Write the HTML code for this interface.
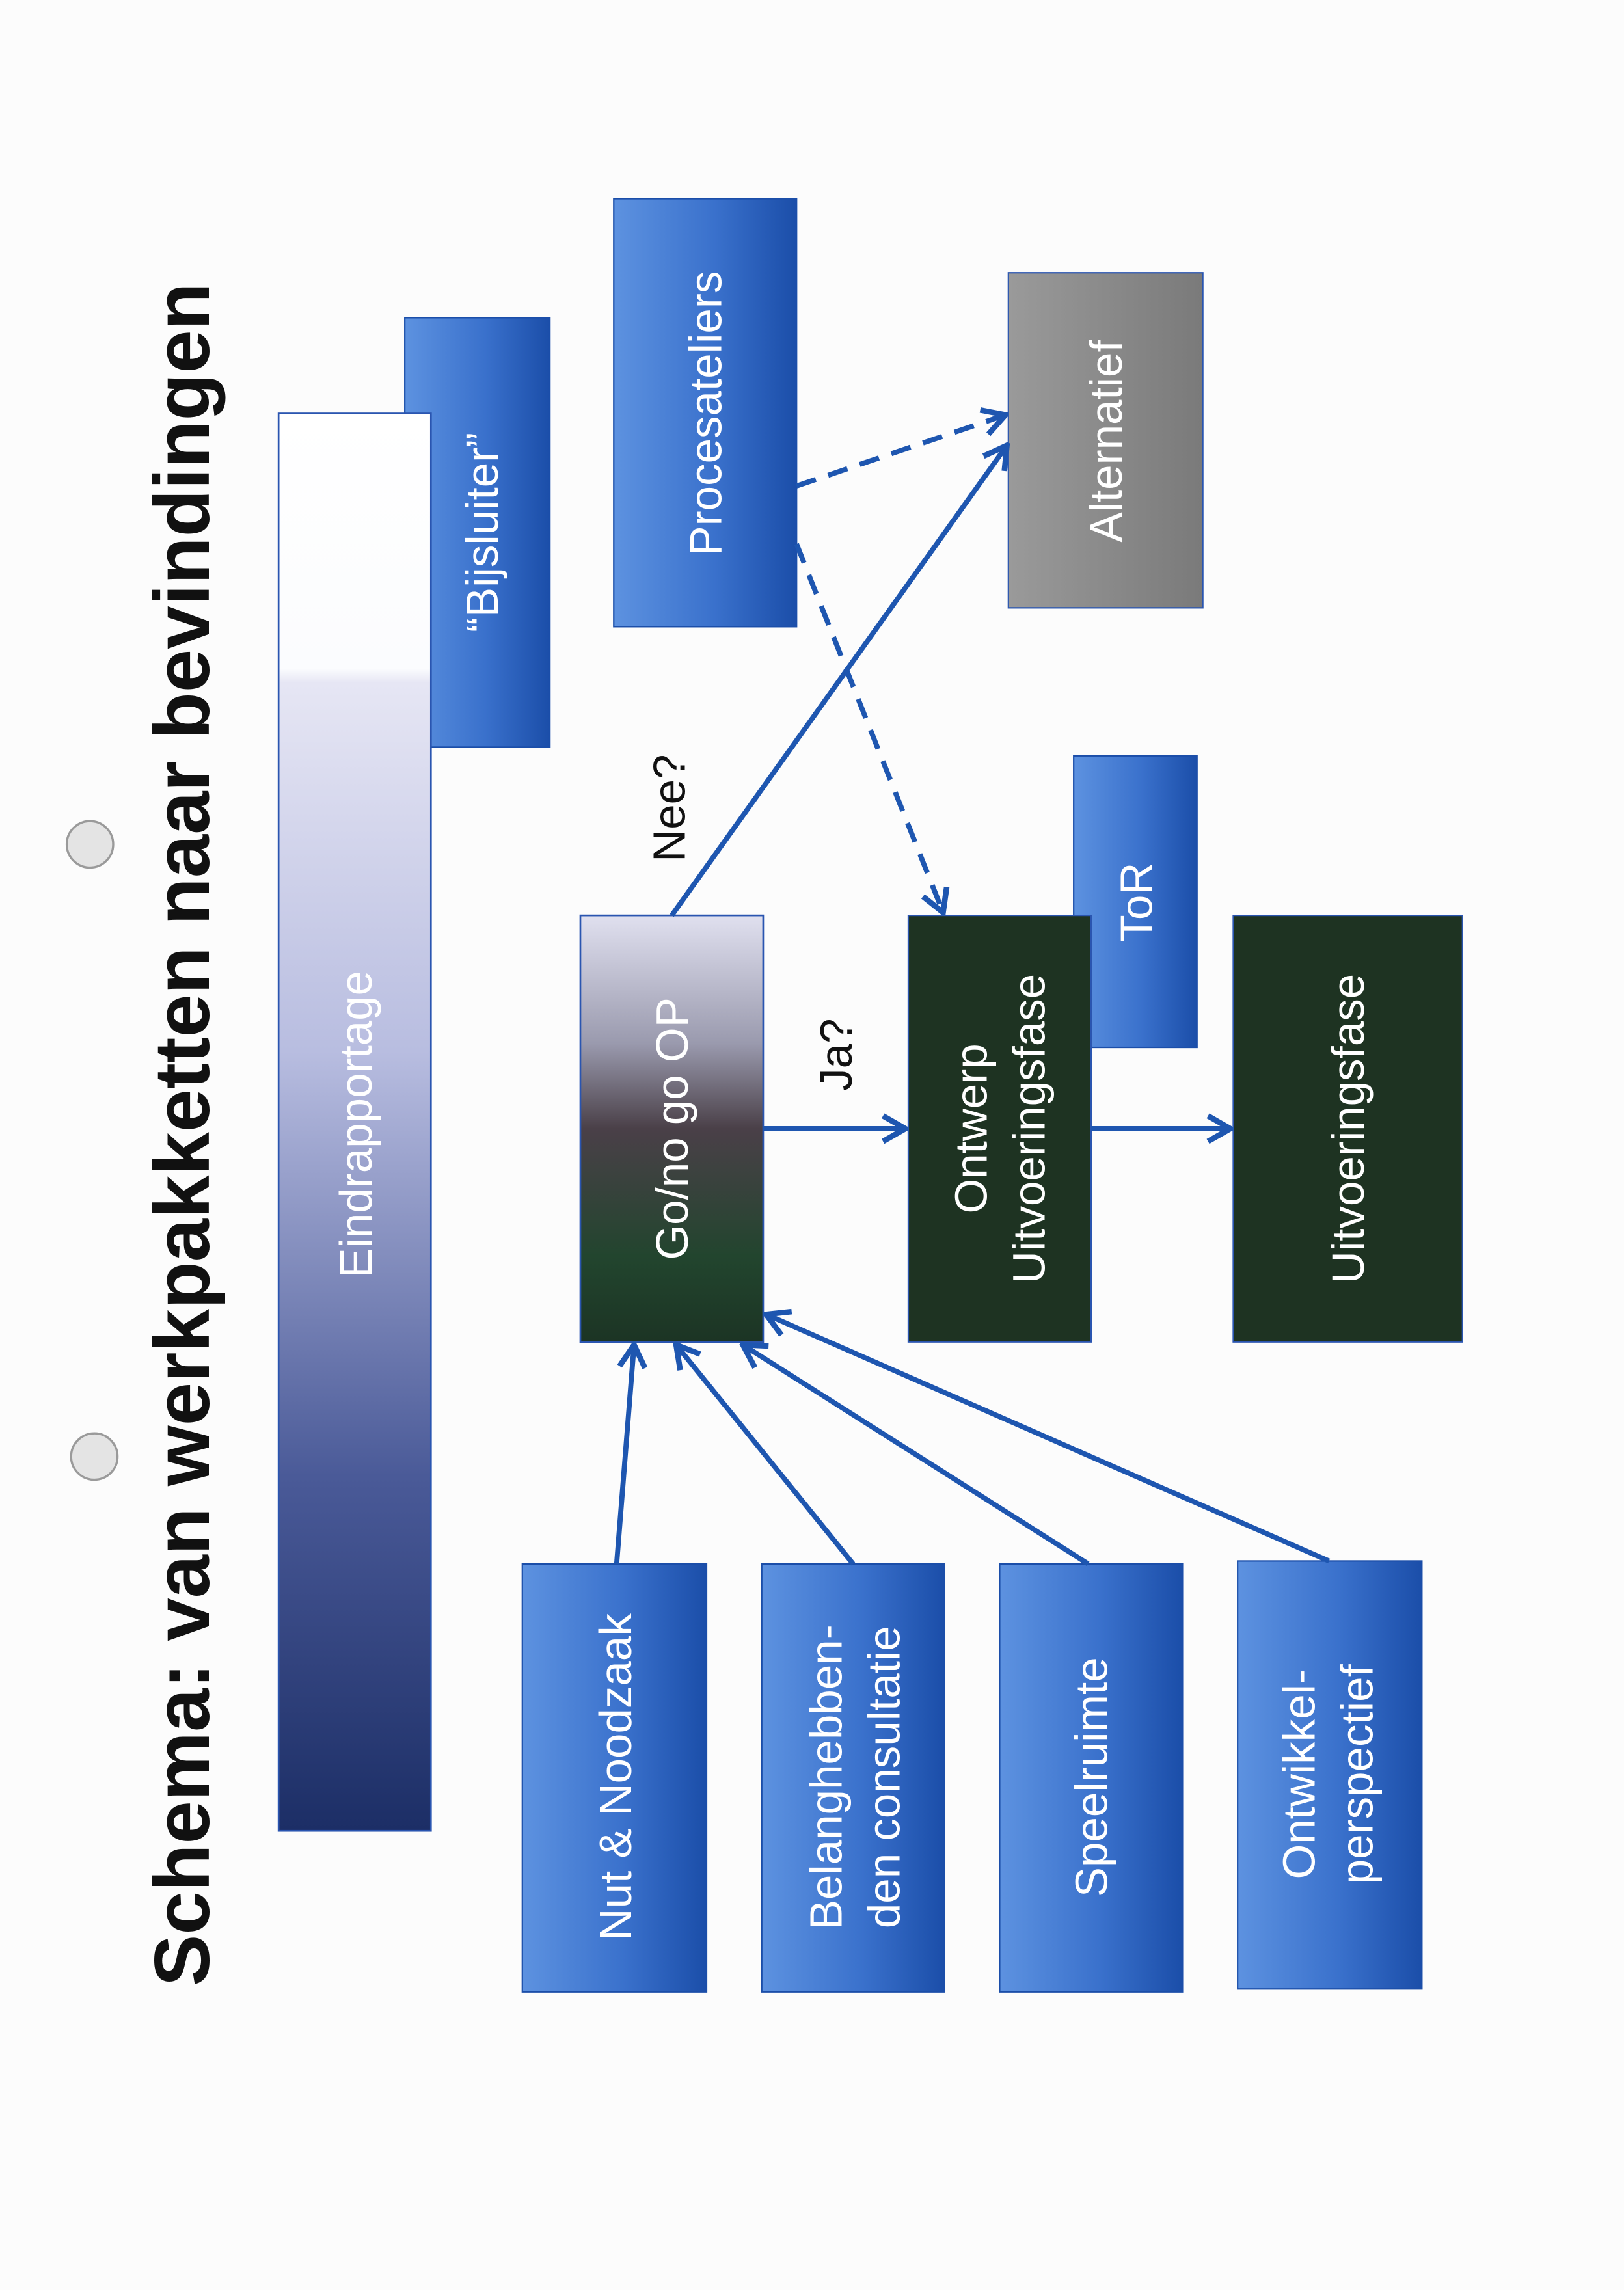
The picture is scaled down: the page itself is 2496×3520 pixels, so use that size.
<!DOCTYPE html>
<html><head><meta charset="utf-8"><style>
html,body{margin:0;padding:0;background:#fcfcfc;}
svg{display:block;}
text{font-family:"Liberation Sans",Arial,sans-serif;}
</style></head><body>
<svg width="2496" height="3520" viewBox="0 0 1119.3 1578.5" preserveAspectRatio="none" xmlns="http://www.w3.org/2000/svg">
<defs>
<linearGradient id="blue" x1="0" y1="0" x2="1" y2="0">
<stop offset="0" stop-color="#5d92e0"/><stop offset="0.55" stop-color="#3a71cc"/><stop offset="1" stop-color="#1b4ea9"/>
</linearGradient>
<linearGradient id="eind" x1="0" y1="0" x2="0" y2="1">
<stop offset="0" stop-color="#ffffff"/><stop offset="0.18" stop-color="#fbfcfe"/><stop offset="0.19" stop-color="#e6e6f4"/><stop offset="0.45" stop-color="#b8bde0"/><stop offset="0.75" stop-color="#4a5a98"/><stop offset="1" stop-color="#1c2e66"/>
</linearGradient>
<linearGradient id="go" x1="0" y1="0" x2="0" y2="1">
<stop offset="0" stop-color="#e0e0ef"/><stop offset="0.3" stop-color="#9a9aae"/><stop offset="0.5" stop-color="#4a4048"/><stop offset="0.8" stop-color="#22452e"/><stop offset="1" stop-color="#1c3424"/>
</linearGradient>
<linearGradient id="gray" x1="0" y1="0" x2="1" y2="0">
<stop offset="0" stop-color="#9a9a9a"/><stop offset="1" stop-color="#7a7a7a"/>
</linearGradient>
<marker id="arr" viewBox="0 0 20 20" refX="18" refY="10" markerWidth="22" markerHeight="22" orient="auto" markerUnits="userSpaceOnUse">
<path d="M4,2 L18,10 L4,18" fill="none" stroke="#1e56b0" stroke-width="3.5"/>
</marker>
</defs>

<text transform="translate(144,782) rotate(-90)" text-anchor="middle" font-size="53.5" font-weight="bold" fill="#111">Schema: van werkpakketten naar bevindingen</text>

<circle cx="62" cy="582" r="16" fill="#e4e4e4" stroke="#9a9a9a" stroke-width="1.5"/>
<circle cx="65" cy="1004" r="16" fill="#e4e4e4" stroke="#9a9a9a" stroke-width="1.5"/>

<rect x="279" y="219" width="100" height="296" fill="url(#blue)" stroke="#1b4ea9"/>
<text transform="translate(343,367) rotate(-90)" text-anchor="middle" font-size="31" fill="#fff">“Bijsluiter”</text>

<rect x="192" y="285" width="105" height="977" fill="url(#eind)" stroke="#2a55b0" stroke-width="1.2"/>
<text transform="translate(256,775) rotate(-90)" text-anchor="middle" font-size="31" fill="#fff">Eindrapportage</text>

<rect x="423" y="137" width="126" height="295" fill="url(#blue)" stroke="#1b4ea9"/>
<text transform="translate(497,285) rotate(-90)" text-anchor="middle" font-size="31" fill="#fff">Procesateliers</text>

<rect x="695" y="188" width="134" height="231" fill="url(#gray)" stroke="#2a55b0"/>
<text transform="translate(773,304) rotate(-90)" text-anchor="middle" font-size="31" fill="#fff">Alternatief</text>

<rect x="740" y="521" width="85" height="201" fill="url(#blue)" stroke="#1b4ea9"/>
<text transform="translate(794,622) rotate(-90)" text-anchor="middle" font-size="31" fill="#fff">ToR</text>

<rect x="400" y="631" width="126" height="294" fill="url(#go)" stroke="#2a55b0" stroke-width="1.2"/>
<text transform="translate(474,778) rotate(-90)" text-anchor="middle" font-size="31" fill="#fff">Go/no go OP</text>

<rect x="626" y="631" width="126" height="294" fill="#1e3322" stroke="#2a55b0" stroke-width="1"/>
<text transform="translate(680,778) rotate(-90)" text-anchor="middle" font-size="31" fill="#fff">Ontwerp</text>
<text transform="translate(720,778) rotate(-90)" text-anchor="middle" font-size="31" fill="#fff">Uitvoeringsfase</text>

<rect x="850" y="631" width="158" height="294" fill="#1e3322" stroke="#2a55b0" stroke-width="1"/>
<text transform="translate(940,778) rotate(-90)" text-anchor="middle" font-size="31" fill="#fff">Uitvoeringsfase</text>

<rect x="360" y="1078" width="127" height="295" fill="url(#blue)" stroke="#1b4ea9"/>
<text transform="translate(435,1225) rotate(-90)" text-anchor="middle" font-size="31" fill="#fff">Nut &amp; Noodzaak</text>

<rect x="525" y="1078" width="126" height="295" fill="url(#blue)" stroke="#1b4ea9"/>
<text transform="translate(580,1225) rotate(-90)" text-anchor="middle" font-size="31" fill="#fff">Belanghebben-</text>
<text transform="translate(620,1225) rotate(-90)" text-anchor="middle" font-size="31" fill="#fff">den consultatie</text>

<rect x="689" y="1078" width="126" height="295" fill="url(#blue)" stroke="#1b4ea9"/>
<text transform="translate(763,1225) rotate(-90)" text-anchor="middle" font-size="31" fill="#fff">Speelruimte</text>

<rect x="853" y="1076" width="127" height="295" fill="url(#blue)" stroke="#1b4ea9"/>
<text transform="translate(906,1223) rotate(-90)" text-anchor="middle" font-size="31" fill="#fff">Ontwikkel-</text>
<text transform="translate(946,1223) rotate(-90)" text-anchor="middle" font-size="31" fill="#fff">perspectief</text>

<g stroke="#1e56b0" stroke-width="3.5" fill="none">
<line x1="526" y1="778" x2="624" y2="778" marker-end="url(#arr)"/>
<line x1="752" y1="778" x2="848" y2="778" marker-end="url(#arr)"/>
<line x1="463" y1="631" x2="694" y2="307" marker-end="url(#arr)"/>
<line x1="549" y1="335" x2="693" y2="286" stroke-dasharray="14,9" marker-end="url(#arr)"/>
<line x1="549" y1="375" x2="650" y2="629" stroke-dasharray="14,9" marker-end="url(#arr)"/>
<line x1="425" y1="1078" x2="437" y2="927" marker-end="url(#arr)"/>
<line x1="588" y1="1078" x2="466" y2="927" marker-end="url(#arr)"/>
<line x1="750" y1="1078" x2="512" y2="927" marker-end="url(#arr)"/>
<line x1="916" y1="1076" x2="528" y2="906" marker-end="url(#arr)"/>
</g>

<text transform="translate(472,557) rotate(-90)" text-anchor="middle" font-size="31" fill="#111">Nee?</text>
<text transform="translate(587,727) rotate(-90)" text-anchor="middle" font-size="31" fill="#111">Ja?</text>
</svg>
</body></html>
